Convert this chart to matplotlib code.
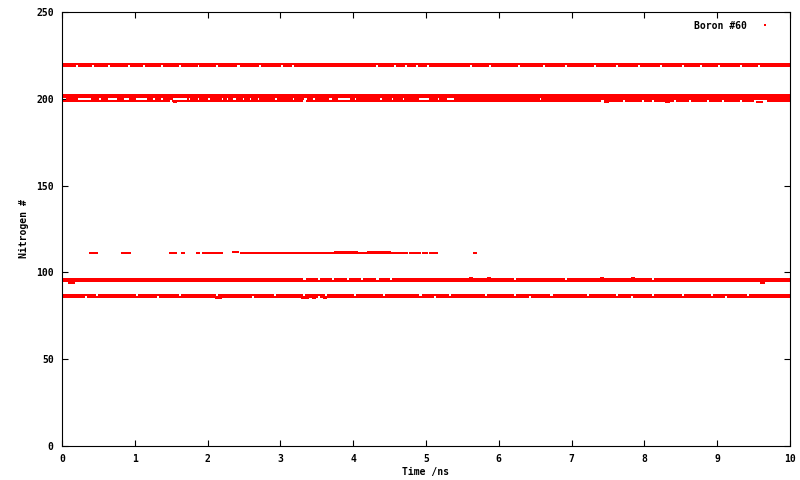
import numpy as np
import matplotlib
matplotlib.use('Agg')
import matplotlib.pyplot as plt

# Which nitrogen is closest to boron #60 over the trajectory
x_ticks = [0, 1, 2, 3, 4, 5, 6, 7, 8, 9, 10]
y_ticks = [0, 50, 100, 150, 200, 250]
series_label = 'Boron #60'
frame_step = 0.004  # ns between saved frames

# Rows that are occupied nearly all the time: nitrogen -> list of gaps (ns)
mostly_present = {
    220: [],
    219: [(0.18, 0.23), (0.4, 0.45), (0.62, 0.67), (0.9, 0.95), (1.1, 1.15), (1.35, 1.4),
          (1.6, 1.65), (1.85, 1.9), (2.1, 2.15), (2.4, 2.45), (2.7, 2.75), (3.0, 3.05),
          (3.15, 3.2), (4.3, 4.35), (4.55, 4.6), (4.7, 4.75), (4.85, 4.9), (5.0, 5.05),
          (5.6, 5.65), (5.85, 5.9), (6.25, 6.3), (6.6, 6.65), (6.9, 6.95), (7.3, 7.35),
          (7.6, 7.65), (7.9, 7.95), (8.2, 8.25), (8.5, 8.55), (8.75, 8.8), (9.0, 9.05),
          (9.3, 9.35), (9.55, 9.6)],
    202: [],
    201: [(0.0, 0.03)],
    200: [(0.0, 0.07), (0.21, 0.41), (0.49, 0.55), (0.62, 0.77), (0.84, 0.93), (1.0, 1.18),
          (1.24, 1.29), (1.35, 1.4), (1.51, 1.72), (1.73, 1.77), (1.86, 1.9), (2.0, 2.04),
          (2.19, 2.23), (2.26, 2.3), (2.34, 2.4), (2.47, 2.51), (2.57, 2.61), (2.68, 2.72),
          (2.92, 2.96), (3.16, 3.2), (3.31, 3.38), (3.44, 3.48), (3.65, 3.72), (3.78, 3.96),
          (4.01, 4.05), (4.36, 4.4), (4.52, 4.56), (4.67, 4.71), (4.89, 5.05), (5.15, 5.19),
          (5.27, 5.4), (6.56, 6.6)],
    199: [(1.48, 1.52), (3.3, 3.36), (7.4, 7.45), (7.7, 7.75), (7.95, 8.0), (8.1, 8.15),
          (8.4, 8.45), (8.6, 8.65), (8.85, 8.9), (9.05, 9.1), (9.3, 9.35), (9.5, 9.7)],
    96: [(3.3, 3.36), (3.5, 3.55), (3.7, 3.75), (3.9, 3.95), (4.1, 4.15), (4.3, 4.36),
         (4.5, 4.55), (6.2, 6.25), (6.9, 6.95), (8.1, 8.15)],
    95: [],
    87: [(0.45, 0.5), (1.0, 1.05), (1.6, 1.65), (2.1, 2.15), (2.9, 2.95), (3.3, 3.35),
         (3.6, 3.65), (4.0, 4.05), (4.4, 4.45), (4.9, 4.95), (5.3, 5.35), (5.8, 5.85),
         (6.2, 6.25), (6.7, 6.75), (7.2, 7.25), (7.6, 7.65), (8.1, 8.15), (8.5, 8.55),
         (8.9, 8.95), (9.4, 9.45)],
    86: [(0.3, 0.35), (1.3, 1.35), (2.6, 2.65), (3.5, 3.55), (5.1, 5.15), (6.4, 6.45),
         (7.8, 7.85), (9.1, 9.15)],
}

# Rows that are visited only now and then: nitrogen -> list of visits (ns)
occasional = {
    198: [(1.54, 1.57), (7.45, 7.5), (8.3, 8.34), (9.55, 9.62)],
    97: [(5.6, 5.63), (5.85, 5.88), (7.4, 7.43), (7.83, 7.86)],
    94: [(0.1, 0.16), (9.6, 9.64)],
    85: [(2.12, 2.18), (3.3, 3.38), (3.45, 3.48), (3.6, 3.62)],
    112: [(2.35, 2.42), (3.75, 4.05), (4.2, 4.5)],
    111: [(0.38, 0.43), (0.44, 0.48), (0.82, 0.86), (0.89, 0.93), (1.48, 1.56), (1.65, 1.68),
          (1.85, 1.89), (1.93, 2.2), (2.45, 2.83), (2.86, 3.2), (3.22, 4.6), (4.62, 4.74),
          (4.78, 4.92), (4.96, 5.02), (5.05, 5.15), (5.66, 5.69)],
}


def frames_in(intervals, t):
    keep = np.zeros(t.size, dtype=bool)
    for a, b in intervals:
        keep |= (t >= a) & (t <= b)
    return keep


def main():
    t = np.arange(0, 10 + frame_step / 2, frame_step)
    xs, ys = [], []
    for n, gaps in mostly_present.items():
        sel = t[~frames_in(gaps, t)]
        xs.append(sel)
        ys.append(np.full(sel.size, n))
    for n, visits in occasional.items():
        sel = t[frames_in(visits, t)]
        xs.append(sel)
        ys.append(np.full(sel.size, n))
    x = np.concatenate(xs)
    y = np.concatenate(ys)

    plt.rcParams['font.family'] = 'DejaVu Sans Mono'
    plt.rcParams['font.weight'] = 'bold'
    plt.rcParams['font.size'] = 7

    fig = plt.figure(figsize=(8, 4.8), dpi=100)
    ax = fig.add_axes([62 / 800, 34 / 480, 728 / 800, 434 / 480])
    ax.plot(x, y, linestyle='none', marker='s', markersize=2.0,
            markeredgewidth=0, color='#ff0000', label=series_label)

    ax.set_xlim(0, 10)
    ax.set_ylim(0, 250)
    ax.set_xticks(x_ticks)
    ax.set_yticks(y_ticks)
    ax.tick_params(direction='in', length=4, width=0.8, top=True, right=True,
                   labelsize=7, pad=6)
    for s in ax.spines.values():
        s.set_linewidth(0.8)
    ax.set_xlabel('Time /ns', fontsize=7, fontweight='bold', labelpad=2)
    ax.set_ylabel('Nitrogen #', fontsize=7, fontweight='bold', labelpad=5)

    ax.legend(loc='upper right', markerfirst=False, frameon=False,
              handlelength=1.2, handletextpad=1.2, markerscale=1.0,
              bbox_to_anchor=(0.9855, 1.0),
              prop={'weight': 'bold', 'size': 7})

    fig.savefig('out.png', dpi=100)


if __name__ == '__main__':
    main()
